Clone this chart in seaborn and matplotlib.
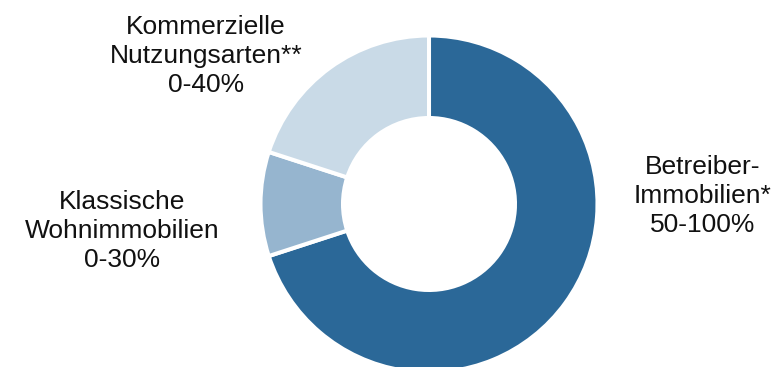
import matplotlib
matplotlib.use("Agg")
import matplotlib.pyplot as plt
import seaborn as sns

categories = ["Betreiber-\nImmobilien*", "Klassische\nWohnimmobilien", "Kommerzielle\nNutzungsarten**"]
ranges = ["50-100%", "0-30%", "0-40%"]
values = [70, 10, 20]
colors = ["#2B6898", "#96B5CF", "#C9DAE7"]

sns.set_theme(style="white")
plt.rcParams['font.family'] = ['Liberation Sans', 'DejaVu Sans']

W, H = 777, 367
fig = plt.figure(figsize=(W / 100, H / 100), dpi=100)
ax = fig.add_axes([0, 0, 1, 1])

cx, cy = 429, H - 204
R = 168.5
ax.pie(values, colors=colors, startangle=90, counterclock=False,
       center=(cx, cy), radius=R, frame=True,
       wedgeprops=dict(width=R - 86, edgecolor="white", linewidth=2.9))
ax.set_xlim(0, W)
ax.set_ylim(0, H)
ax.set_aspect("equal")
ax.axis("off")

label_pos = [(703, 196), (122, 231), (206, 56)]
for cat, rng, (x, y) in zip(categories, ranges, label_pos):
    ax.text(x, H - y, f"{cat}\n{rng}", ha="center", va="center",
            fontsize=19, color="#111111", linespacing=1.27)

fig.savefig("out.png", dpi=100)
